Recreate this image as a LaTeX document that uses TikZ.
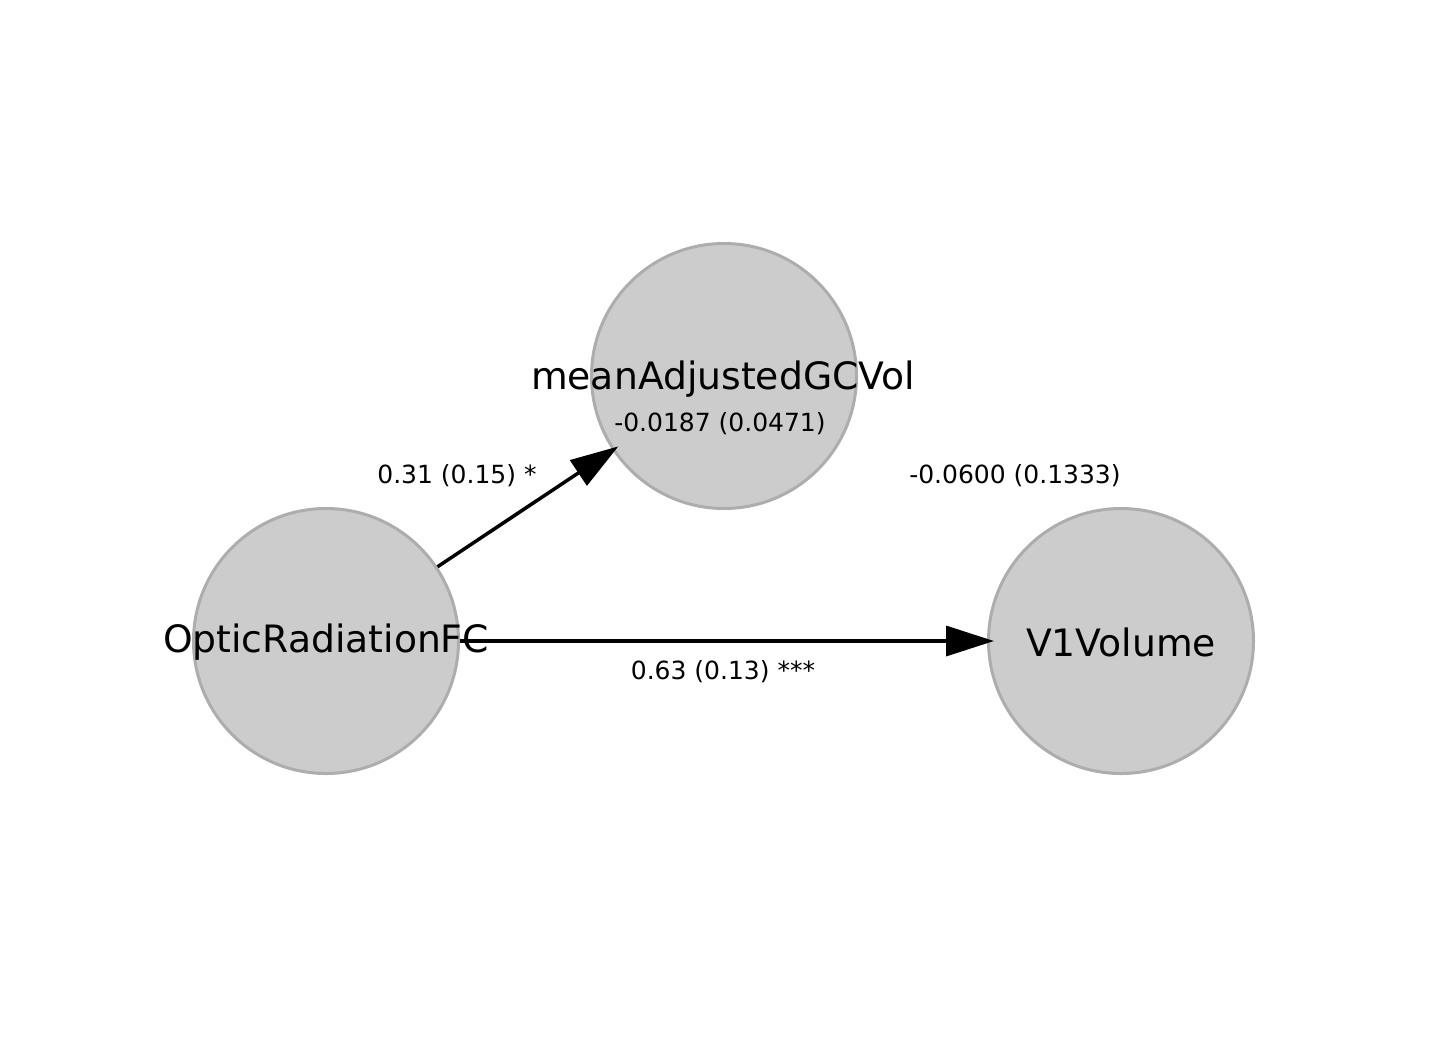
\documentclass[tikz,border=0pt]{standalone}
\usepackage{fontspec}
\setmainfont{DejaVu Sans}
\usetikzlibrary{arrows.meta}
\definecolor{nodefill}{HTML}{CCCCCC}
\definecolor{nodeline}{HTML}{ADADAD}
\begin{document}
\begin{tikzpicture}[x=1pt,y=-1pt,
  var/.style={circle,draw=nodeline,fill=nodefill,line width=3pt,minimum size=265pt,inner sep=0pt},
  bigtxt/.style={font=\fontsize{37.7}{44}\selectfont,inner sep=0pt},
  smalltxt/.style={font=\fontsize{25}{30}\selectfont,inner sep=0pt},
  path/.style={line width=3.5pt,shorten >=-7pt,-{Triangle[length=48pt,width=30pt]}}]
\useasboundingbox (0,0) rectangle (1438,1042);
\node[var] (m) at (724,376) {};
\node[var] (o) at (326,641) {};
\node[var] (v) at (1121,641) {};
\node[bigtxt] (mt) at (723,379) {meanAdjustedGCVol};
\node[bigtxt] (ot) at (326,642) {OpticRadiationFC};
\node[bigtxt] (vt) at (1121,642) {V1Volume};
\node[smalltxt] (mr) at (720,424) {-0.0187 (0.0471)};
\node[smalltxt] (vr) at (1015,476) {-0.0600 (0.1333)};
\node[smalltxt] (l1) at (457,476) {0.31 (0.15) *};
\node[smalltxt] (l2) at (723,672) {0.63 (0.13) ***};
\draw[path] (o) -- (m);
\draw[path] (o) -- (v);
\end{tikzpicture}
\end{document}
